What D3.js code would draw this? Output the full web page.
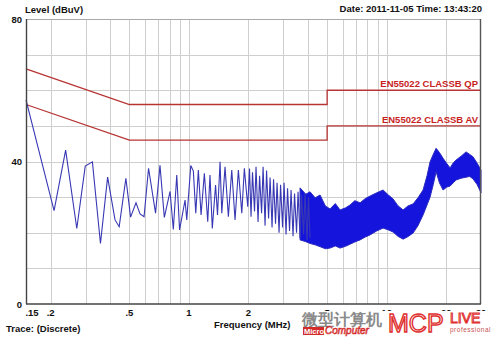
<!DOCTYPE html>
<html>
<head>
<meta charset="utf-8">
<script src="https://cdn.jsdelivr.net/npm/d3@7"></script>
<style>
    body { margin: 0; background: #fff; }
    text { font-family: "Liberation Sans", Arial, sans-serif; }
</style>
</head>
<body>
<div id="chart"></div>
<script>
// measured trace, MHz / dBuV (sparse part + zigzag up to ~4 MHz)
var traceFreq = [0.150, 0.208, 0.238, 0.271, 0.299, 0.325, 0.357, 0.388, 0.423, 0.444,
    0.480, 0.507, 0.540, 0.566, 0.593, 0.625, 0.678, 0.714, 0.751, 0.803,
    0.834, 0.868, 0.897, 0.956, 0.975, 1.022, 1.053, 1.083, 1.116, 1.152,
    1.197, 1.245, 1.278, 1.313, 1.364, 1.395, 1.437, 1.466, 1.523, 1.583,
    1.647, 1.711, 1.779, 1.851, 1.907, 1.984,
    2.025, 2.061, 2.097, 2.147, 2.185, 2.237, 2.277, 2.331, 2.372, 2.427,
    2.470, 2.529, 2.573, 2.633, 2.679, 2.742, 2.791, 2.857, 2.907, 2.976,
    3.028, 3.099, 3.153, 3.228, 3.285, 3.362, 3.421, 3.502, 3.564, 3.648,
    3.712, 3.800, 3.866, 3.957, 4.026, 4.098];
var traceLevel = [57.3, 26.2, 43.2, 21.2, 38.7, 39.9, 17.0, 35.6, 23.6, 21.7,
    35.3, 24.4, 28.4, 25.3, 24.5, 38.1, 25.5, 38.9, 24.3, 31.6,
    20.9, 36.2, 20.8, 29.2, 23.6, 38.9, 37.3, 25.5, 37.6, 25.0,
    36.7, 23.1, 36.2, 21.2, 33.4, 25.0, 39.9, 25.5, 38.5, 24.5,
    37.6, 23.6, 37.6, 25.5, 38.1, 27.3,
    38.0, 24.5, 37.0, 26.0, 38.5, 23.0, 36.0, 25.5, 38.5, 22.0,
    37.5, 24.0, 35.5, 21.5, 35.0, 22.5, 34.0, 20.0, 33.5, 21.5,
    34.0, 19.5, 32.5, 20.5, 32.0, 19.0, 31.0, 20.0, 31.5, 18.5,
    30.5, 19.5, 31.0, 18.0, 30.0, 18.5];

// dense part of the trace, read as upper / lower envelope
var bandFreq = [3.648, 3.9, 4.098, 4.35, 4.605, 4.9, 5.174, 5.5, 5.814, 6.2,
    6.533, 6.9, 7.338, 7.8, 8.243, 8.9, 9.591, 10.2, 10.78, 11.4,
    12.11, 12.8, 13.60, 14.4, 15.28, 16.0, 16.58, 17.2, 17.79, 18.5,
    19.29, 20.1, 20.93, 21.7, 22.44, 23.8, 25.21, 26.3, 27.36, 28.7, 30];
var bandHigh = [32.6, 30.8, 31.5, 29.8, 30.6, 27.5, 26.7, 28.2, 26.4, 27.0,
    27.8, 29.0, 28.4, 29.6, 30.3, 31.2, 32.0, 30.6, 29.5, 27.6,
    26.4, 27.5, 28.1, 29.8, 32.0, 36.0, 39.9, 42.0, 43.7, 42.5,
    40.9, 39.5, 38.2, 39.6, 40.4, 41.5, 42.7, 42.0, 41.3, 39.5, 37.6];
var bandLow = [18.0, 17.5, 17.0, 16.6, 16.1, 15.5, 15.7, 16.3, 15.7, 16.2,
    16.8, 17.4, 18.0, 18.8, 19.4, 20.5, 21.3, 20.8, 20.2, 19.0,
    18.2, 18.9, 19.9, 22.0, 25.0, 27.8, 30.0, 33.5, 37.1, 34.0,
    32.0, 32.8, 33.1, 34.0, 34.8, 35.3, 35.6, 35.8, 35.1, 33.5, 31.2];

// EN55022 class B limits
var limitFreq = [0.15, 0.5, 5, 5, 30];
var qpLevel = [66, 56, 56, 60, 60];
var avLevel = [56, 46, 46, 50, 50];

var gridFreq = [0.2, 0.3, 0.4, 0.5, 0.6, 0.7, 0.8, 0.9, 1, 2, 3, 4, 5, 6, 7, 8, 9, 10, 20];
var gridLevel = [10, 20, 30, 40, 50, 60, 70];
var tickFreq = [0.15, 0.2, 0.5, 1, 2, 5, 10, 20, 30];
var tickLabel = [".15", ".2", ".5", "1", "2", "5", "10", "20", "30"];
var levelTicks = [0, 40, 80];

var width = 500, height = 337;
var margin = {top: 19, right: 19, bottom: 33, left: 26};

var svg = d3.select("#chart").append("svg")
    .attr("width", width)
    .attr("height", height);

var x = d3.scaleLog()
    .domain([0.15, 30])
    .range([margin.left, width - margin.right]);

var y = d3.scaleLinear()
    .domain([0, 80])
    .range([height - margin.bottom, margin.top]);

// grid
svg.append("g").selectAll("line.vg")
    .data(gridFreq)
    .enter().append("line")
    .attr("x1", function(d) { return Math.round(x(d)) + 0.5; })
    .attr("x2", function(d) { return Math.round(x(d)) + 0.5; })
    .attr("y1", y(80))
    .attr("y2", y(0))
    .attr("stroke", "#cfcfcf");

svg.append("g").selectAll("line.hg")
    .data(gridLevel)
    .enter().append("line")
    .attr("x1", x(0.15))
    .attr("x2", x(30))
    .attr("y1", function(d) { return Math.round(y(d)) + 0.5; })
    .attr("y2", function(d) { return Math.round(y(d)) + 0.5; })
    .attr("stroke", "#cfcfcf");

// limit lines
var limitLine = d3.line()
    .x(function(d) { return x(d[0]); })
    .y(function(d) { return y(d[1]); });

[qpLevel, avLevel].forEach(function(lv) {
    svg.append("path")
        .attr("d", limitLine(d3.zip(limitFreq, lv)))
        .attr("fill", "none")
        .attr("stroke", "#b83434")
        .attr("stroke-width", 1.3);
});

svg.append("text")
    .attr("x", x(30) - 3)
    .attr("y", y(60) - 3)
    .attr("text-anchor", "end")
    .attr("font-size", "9.5px")
    .attr("font-weight", "bold")
    .attr("fill", "#c81e1e")
    .text("EN55022 CLASSB QP");

svg.append("text")
    .attr("x", x(30) - 3)
    .attr("y", y(50) - 3)
    .attr("text-anchor", "end")
    .attr("font-size", "9.5px")
    .attr("font-weight", "bold")
    .attr("fill", "#c81e1e")
    .text("EN55022 CLASSB AV");

// dense band
var band = d3.area()
    .x(function(d) { return x(d[0]); })
    .y0(function(d) { return y(d[2]); })
    .y1(function(d) { return y(d[1]); });

svg.append("path")
    .attr("d", band(d3.zip(bandFreq, bandHigh, bandLow)))
    .attr("fill", "#1414dc")
    .attr("stroke", "#2a2ac0")
    .attr("stroke-width", 1);

// trace
var traceLine = d3.line()
    .x(function(d) { return x(d[0]); })
    .y(function(d) { return y(d[1]); });

svg.append("path")
    .attr("d", traceLine(d3.zip(traceFreq, traceLevel)))
    .attr("fill", "none")
    .attr("stroke", "#3838b4")
    .attr("stroke-width", 1.1);

// frame
svg.append("line").attr("x1", x(0.15)).attr("x2", x(30)).attr("y1", y(80) + 0.5).attr("y2", y(80) + 0.5)
    .attr("stroke", "#aaa");
svg.append("line").attr("x1", x(0.15) + 0.5).attr("x2", x(0.15) + 0.5).attr("y1", y(80)).attr("y2", y(0))
    .attr("stroke", "#444").attr("stroke-width", 1.4);
svg.append("line").attr("x1", x(30) - 0.5).attr("x2", x(30) - 0.5).attr("y1", y(80)).attr("y2", y(0))
    .attr("stroke", "#555").attr("stroke-width", 1.4);
svg.append("line").attr("x1", x(0.15)).attr("x2", x(30)).attr("y1", y(0)).attr("y2", y(0))
    .attr("stroke", "#444").attr("stroke-width", 1.4);

// axis labels
svg.append("g").selectAll("text")
    .data(levelTicks)
    .enter().append("text")
    .attr("x", 22)
    .attr("y", function(d) { return y(d) + 3.5; })
    .attr("text-anchor", "end")
    .attr("font-size", "9.5px")
    .attr("font-weight", "bold")
    .attr("fill", "#111")
    .text(function(d) { return d; });

svg.append("g").selectAll("text")
    .data(tickFreq)
    .enter().append("text")
    .attr("x", function(d, i) { return i === 0 ? x(d) + 6 : x(d); })
    .attr("y", y(0) + 12)
    .attr("text-anchor", "middle")
    .attr("font-size", "9.5px")
    .attr("font-weight", "bold")
    .attr("fill", "#111")
    .text(function(d, i) { return tickLabel[i]; });

svg.append("text")
    .attr("x", 25).attr("y", 13)
    .attr("font-size", "9.5px").attr("font-weight", "bold").attr("fill", "#111")
    .text("Level (dBuV)");

svg.append("text")
    .attr("x", 482).attr("y", 12)
    .attr("text-anchor", "end")
    .attr("font-size", "9.5px").attr("font-weight", "bold").attr("fill", "#111")
    .text("Date: 2011-11-05  Time: 13:43:20");

svg.append("text")
    .attr("x", 214).attr("y", 328)
    .attr("font-size", "9.5px").attr("font-weight", "bold").attr("fill", "#111")
    .text("Frequency (MHz)");

svg.append("text")
    .attr("x", 6).attr("y", 332)
    .attr("font-size", "9.5px").attr("font-weight", "bold").attr("fill", "#111")
    .text("Trace: (Discrete)");

// watermark
var wm = svg.append("g");
wm.append("rect")
    .attr("x", 300).attr("y", 311).attr("width", 200).attr("height", 26)
    .attr("fill", "#fff");
wm.append("text")
    .attr("x", 302).attr("y", 325)
    .attr("font-family", "Noto Sans CJK SC")
    .attr("font-size", "16px").attr("font-weight", "bold")
    .attr("fill", "#8a8a8a")
    .text("微型计算机");
wm.append("rect")
    .attr("x", 303).attr("y", 327).attr("width", 21).attr("height", 8)
    .attr("fill", "#d42a2a");
wm.append("text")
    .attr("x", 304).attr("y", 334)
    .attr("font-size", "7.5px").attr("font-weight", "bold")
    .attr("fill", "#fff")
    .text("Micro");
wm.append("text")
    .attr("x", 325).attr("y", 334)
    .attr("font-size", "10px").attr("font-style", "italic")
    .attr("fill", "none").attr("stroke", "#d42a2a").attr("stroke-width", 0.7)
    .text("Computer");
wm.append("text")
    .attr("x", 388).attr("y", 332)
    .attr("font-size", "25px")
    .attr("fill", "none").attr("stroke", "#e03030").attr("stroke-width", 1.4)
    .text("MCP");
wm.append("text")
    .attr("x", 450).attr("y", 323)
    .attr("font-size", "14px")
    .attr("fill", "none").attr("stroke", "#e03030").attr("stroke-width", 1)
    .text("LIVE");
wm.append("text")
    .attr("x", 450).attr("y", 332)
    .attr("font-size", "6.5px")
    .attr("letter-spacing", "0.5px")
    .attr("fill", "#c85050")
    .text("professional");
</script>
</body>
</html>
